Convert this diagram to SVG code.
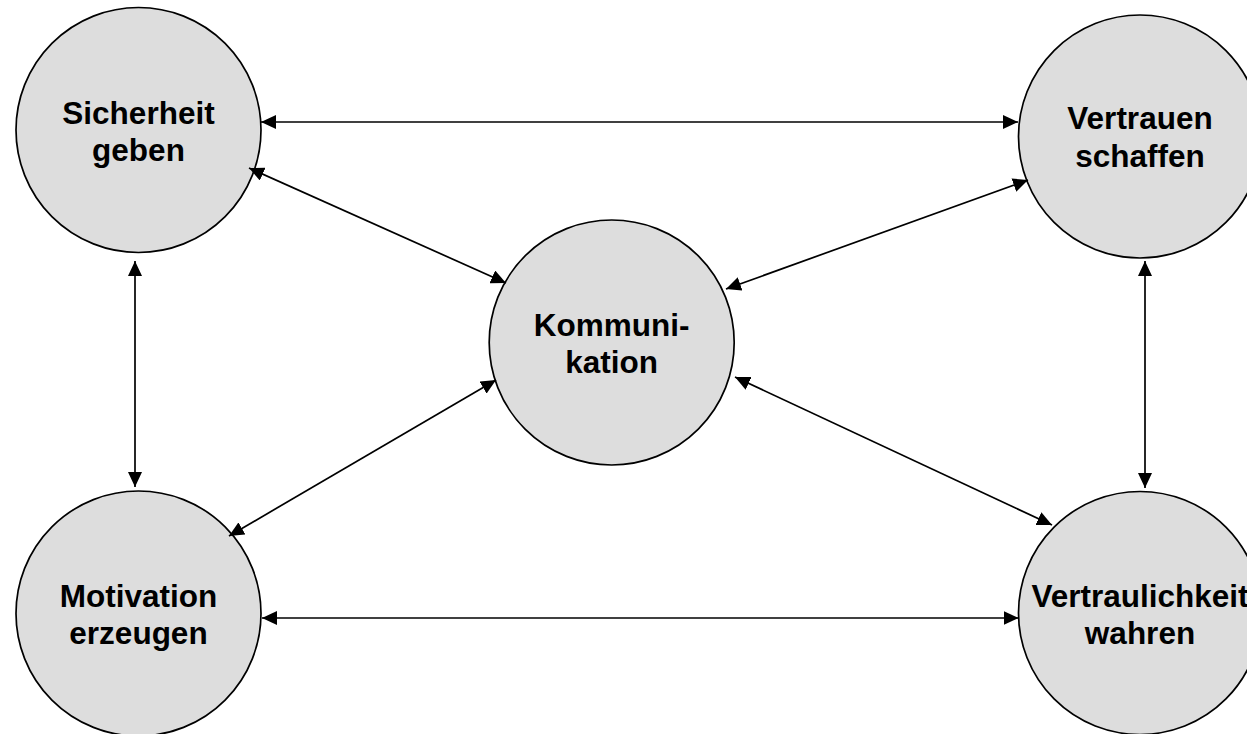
<svg xmlns="http://www.w3.org/2000/svg" width="1247" height="734" viewBox="0 0 1247 734">
<style>
.node circle{fill:#dddddd;stroke:#000;stroke-width:1.7}
.node text{font-family:"Liberation Sans",Arial,sans-serif;font-weight:bold;font-size:31.5px;fill:#000;text-anchor:middle}
.conn line{stroke:#000;stroke-width:1.7;marker-start:url(#ah);marker-end:url(#ah)}
</style>
<defs>
<marker id="ah" markerUnits="userSpaceOnUse" markerWidth="16" markerHeight="14" refX="15" refY="7" orient="auto-start-reverse" viewBox="0 0 16 14">
<path d="M0,0 L15,7 L0,14 z" fill="#000"/>
</marker>
</defs>
<rect width="1247" height="734" fill="#fff"/>
<g id="n-sicherheit" class="node">
<circle cx="138.5" cy="130" r="122.5"/>
<text x="138.5" y="123.5">Sicherheit</text>
<text x="138.5" y="160.5">geben</text>
</g>
<g id="n-vertrauen" class="node">
<circle cx="1140" cy="136.5" r="121.5"/>
<text x="1140" y="129">Vertrauen</text>
<text x="1140" y="167">schaffen</text>
</g>
<g id="n-kommunikation" class="node">
<circle cx="611.7" cy="342.5" r="122.5"/>
<text x="611.7" y="336">Kommuni-</text>
<text x="611.7" y="373">kation</text>
</g>
<g id="n-motivation" class="node">
<circle cx="138.5" cy="613.5" r="122.5"/>
<text x="138.5" y="607">Motivation</text>
<text x="138.5" y="644">erzeugen</text>
</g>
<g id="n-vertraulichkeit" class="node">
<circle cx="1140" cy="613" r="121.5"/>
<text x="1140" y="607">Vertraulichkeit</text>
<text x="1140" y="644">wahren</text>
</g>
<g id="connectors" class="conn">
<line x1="261" y1="122" x2="1018" y2="122"/>
<line x1="262" y1="618" x2="1018.5" y2="618"/>
<line x1="135" y1="261" x2="135" y2="487"/>
<line x1="1145" y1="261" x2="1145" y2="488"/>
<line x1="249" y1="168" x2="506" y2="283"/>
<line x1="1028" y1="180" x2="726" y2="289"/>
<line x1="229" y1="536" x2="496" y2="380"/>
<line x1="1052" y1="525" x2="735" y2="377"/>
</g>
</svg>
